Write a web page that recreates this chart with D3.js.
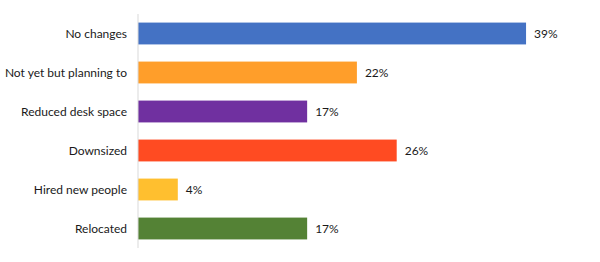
<!DOCTYPE html>
<html><head><meta charset="utf-8">
<script src="https://cdn.jsdelivr.net/npm/d3@7"></script>
<style>html,body{margin:0;padding:0;background:#fff;}svg{display:block;}</style>
</head><body>
<script>
const categories = ["No changes","Not yet but planning to","Reduced desk space","Downsized","Hired new people","Relocated"];
const values = [39,22,17,26,4,17];
const colors = ["#4472C4","#FF9E2A","#7030A0","#FF4B22","#FFBF2F","#548235"];

const W=600,H=262;
const svg=d3.select("body").append("svg").attr("width",W).attr("height",H);
const x0=138;
const x=d3.scaleLinear().domain([0,40]).range([x0,x0+398]);
const y=d3.scaleBand().domain(categories).range([14,248]).paddingInner(0.44).paddingOuter(0.22);

svg.append("g").selectAll("rect").data(values).join("rect")
  .attr("x",x(0)).attr("y",(d,i)=>y(categories[i]))
  .attr("width",d=>x(d)-x(0)).attr("height",y.bandwidth())
  .attr("fill",(d,i)=>colors[i]);

svg.append("line").attr("x1",x0).attr("x2",x0).attr("y1",14).attr("y2",248)
  .attr("stroke","#d9d9d9").attr("stroke-width",1);

const font="Lato, 'Open Sans', sans-serif";
svg.append("g").selectAll("text").data(categories).join("text")
  .attr("x",127).attr("y",d=>y(d)+y.bandwidth()/2).attr("dy","0.35em")
  .attr("text-anchor","end").attr("font-family",font).attr("font-size",12).attr("fill","#1a1a1a")
  .text(d=>d);

svg.append("g").selectAll("text").data(values).join("text")
  .attr("x",d=>x(d)+8).attr("y",(d,i)=>y(categories[i])+y.bandwidth()/2).attr("dy","0.35em")
  .attr("font-family",font).attr("font-size",12).attr("fill","#1a1a1a")
  .text(d=>d+"%");
</script>
</body></html>
